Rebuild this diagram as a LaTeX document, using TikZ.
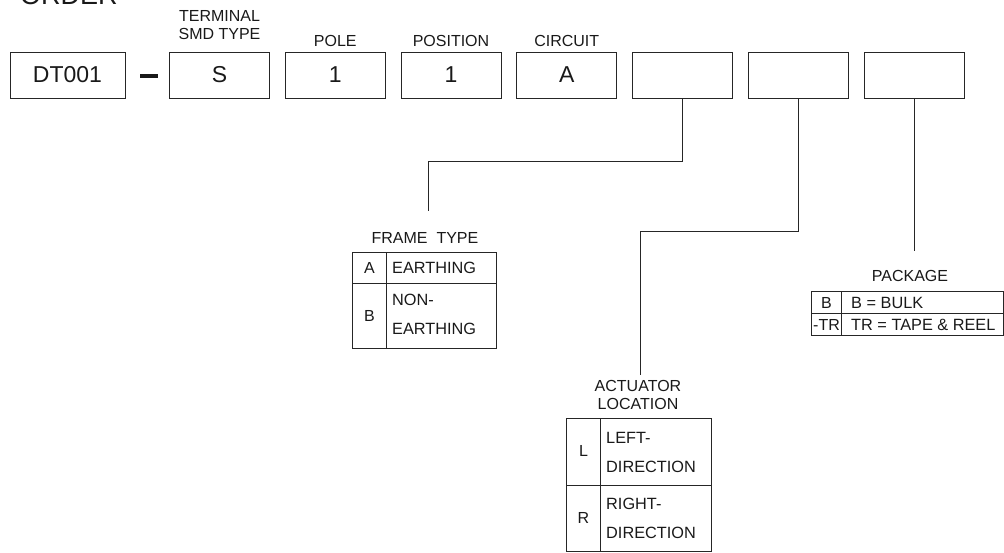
\documentclass[tikz,border=0pt]{standalone}
\usepackage{fontspec}
\setmainfont{Liberation Sans}
\usepackage{tikz}

\begin{document}
\begin{tikzpicture}[x=1pt, y=-1pt,
  every node/.style={inner sep=0pt, text=black!90},
  box/.style={draw=black!85, line width=1pt, minimum width=100pt, minimum height=46pt, font=\fontsize{23}{26}\selectfont},
  lbl/.style={font=\fontsize{16}{18}\selectfont},
  cell/.style={font=\fontsize{16.3}{29}\selectfont, align=left, anchor=west},
  wire/.style={draw=black!85, line width=1pt}
  ]
  \useasboundingbox (0,0) rectangle (1004,552);
  \clip (0,0) rectangle (1004,552);
  \node[anchor=base west, font=\fontsize{27}{30}\selectfont] (order) at (20,4) {ORDER};

  \node[box, minimum width=115pt] (base) at (67.5,75) {DT001};
  \node[fill=black!90, minimum width=18pt, minimum height=4.5pt] (dash) at (149,76) {};
  \node[box] (smd) at (219.5,75) {S};
  \node[box] (pole) at (335.25,75) {1};
  \node[box] (pos) at (451,75) {1};
  \node[box] (circ) at (566.75,75) {A};
  \node[box] (frame) at (682.5,75) {};
  \node[box] (act) at (798.25,75) {};
  \node[box] (pkg) at (914,75) {};

  \node[lbl] (smdtop) at (219.5,15.5) {TERMINAL};
  \node[lbl] (smdlbl) at (219.5,33.5) {SMD TYPE};
  \node[lbl] (polelbl) at (335.25,41) {POLE};
  \node[lbl] (poslbl) at (451,41) {POSITION};
  \node[lbl] (circlbl) at (566.75,41) {CIRCUIT};

  \coordinate (frameend) at (428.5,211);
  \coordinate (actend) at (640.5,375);
  \coordinate (pkgend) at (914,251);
  \draw[wire] (frame.south) -- ++(0,63) -| (frameend);
  \draw[wire] (act.south) -- ++(0,133) -| (actend);
  \draw[wire] (pkg.south) -- (pkgend);

  \node[lbl] (frametitle) at (425,237.5) {FRAME\ \ TYPE};
  \draw[wire] (352.5,252) rectangle (496.5,348) (386.5,252) -- (386.5,348) (352.5,283) -- (496.5,283);
  \node[lbl] (fa) at (369.5,267.5) {A};
  \node[cell] (fadesc) at (392,267.5) {EARTHING};
  \node[lbl] (fb) at (369.5,315.5) {B};
  \node[cell] (fbdesc) at (392,314) {NON-\\EARTHING};

  \node[lbl] (acttitle) at (638,386) {ACTUATOR};
  \node[lbl] (actsub) at (638,404) {LOCATION};
  \draw[wire] (566.5,418) rectangle (711.5,551) (600.5,418) -- (600.5,551) (566.5,485) -- (711.5,485);
  \node[lbl] (al) at (583.5,451) {L};
  \node[cell] (aldesc) at (606,452) {LEFT-\\DIRECTION};
  \node[lbl] (ar) at (583.5,518) {R};
  \node[cell] (ardesc) at (606,518.5) {RIGHT-\\DIRECTION};

  \node[lbl] (pkgtitle) at (910,276) {PACKAGE};
  \draw[wire] (811.5,291.5) rectangle (1003,335) (841.5,291.5) -- (841.5,335) (811.5,313.5) -- (1003,313.5);
  \node[lbl] (pb) at (826.5,302.5) {B};
  \node[cell] (pbdesc) at (851,302.5) {B = BULK};
  \node[lbl] (ptr) at (826.5,324.5) {-TR};
  \node[cell] (ptrdesc) at (851,324.5) {TR = TAPE \& REEL};
\end{tikzpicture}
\end{document}
